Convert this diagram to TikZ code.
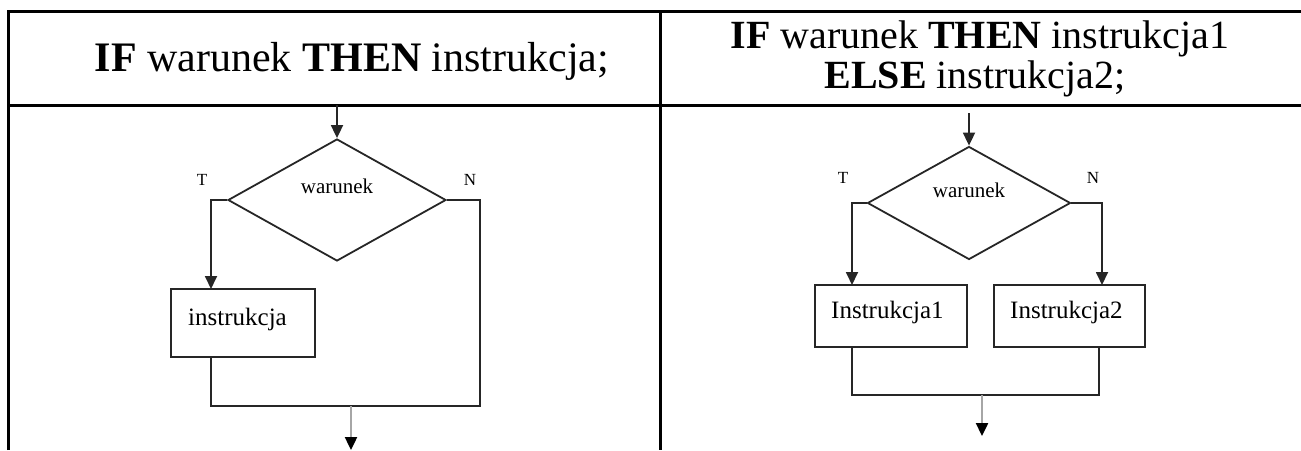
\documentclass[tikz,border=0pt]{standalone}
\usepackage{fontspec}
\setmainfont{Liberation Serif}
\usetikzlibrary{shapes.geometric,arrows.meta}

\begin{document}
\begin{tikzpicture}[x=1pt,y=-1pt,
  grid/.style={line width=3pt,black},
  flow/.style={line width=1.8pt,black!85},
  arr/.style={flow,-{Triangle[width=12pt,length=13pt]}},
  outarr/.style={line width=2.4pt,black!35,-{Triangle[width=12pt,length=13pt,color=black]}},
  cond/.style={diamond,draw,flow,inner sep=0pt},
  stepbox/.style={rectangle,draw,flow,inner sep=0pt},
  head/.style={font=\fontsize{40}{46}\selectfont,anchor=base,inner sep=0pt},
  bighead/.style={head,font=\fontsize{42}{48}\selectfont},
  lbl/.style={font=\fontsize{25}{30}\selectfont,anchor=base west,inner sep=0pt},
  cnd/.style={font=\fontsize{21}{25}\selectfont,anchor=base,inner sep=0pt},
  tn/.style={font=\fontsize{17}{20}\selectfont,anchor=base,inner sep=0pt}]

\useasboundingbox (0,0) rectangle (1301,450);

% table frame
\draw[grid] (8,450) -- (8,11) -- (1301,11);
\draw[grid] (8,105) -- (1301,105);
\draw[grid] (660,11) -- (660,450);

% headers
\node[bighead] (h1) at (352,71) {\textbf{IF} warunek \textbf{THEN} instrukcja;};
\node[head] (h2a) at (980,48) {\textbf{IF} warunek \textbf{THEN} instrukcja1};
\node[head] (h2b) at (975,88) {\textbf{ELSE} instrukcja2;};

% IF ... THEN
\coordinate (in1) at (337,105);
\node[cond, minimum width=218pt, minimum height=122pt] (d1) at (337,200) {};
\draw[arr] (in1) -- (d1.north);
\node[cnd] (w1) at (337,193) {warunek};
\node[tn] (t1) at (202,185) {T};
\node[tn] (n1) at (470,185) {N};
\node[stepbox, minimum width=144pt, minimum height=68pt] (b1) at (243,323) {};
\node[lbl] (l1) at (188,325) {instrukcja};
\coordinate (b1in) at (211,289);
\draw[arr] (d1.west) -| (b1in);
\coordinate (j1r) at (480,406);
\coordinate (j1l) at (211,406);
\draw[flow] (d1.east) -| (j1r) -- (j1l) -- (b1.south -| j1l);
\coordinate (o1) at (351,406);
\coordinate (e1) at (351,450);
\draw[outarr] (o1) -- (e1);

% IF ... THEN ... ELSE
\coordinate (in2) at (969,113);
\node[cond, minimum width=203pt, minimum height=113pt] (d2) at (969,203) {};
\draw[arr] (in2) -- (d2.north);
\node[cnd] (w2) at (969,197) {warunek};
\node[tn] (t2) at (843,183) {T};
\node[tn] (n2) at (1093,183) {N};
\node[stepbox, minimum width=152pt, minimum height=62pt] (b2) at (891,316) {};
\node[stepbox, minimum width=151pt, minimum height=62pt] (b3) at (1069.5,316) {};
\node[lbl] (l2) at (831,318) {Instrukcja1};
\node[lbl] (l3) at (1010,318) {Instrukcja2};
\coordinate (b2in) at (852,285);
\coordinate (b3in) at (1102,285);
\draw[arr] (d2.west) -| (b2in);
\draw[arr] (d2.east) -| (b3in);
\coordinate (j2l) at (852,395);
\coordinate (j2r) at (1099,395);
\draw[flow] (b2.south -| j2l) -- (j2l) -- (j2r) -- (b3.south -| j2r);
\coordinate (o2) at (982,395);
\coordinate (e2) at (982,436);
\draw[outarr] (o2) -- (e2);
\end{tikzpicture}
\end{document}
